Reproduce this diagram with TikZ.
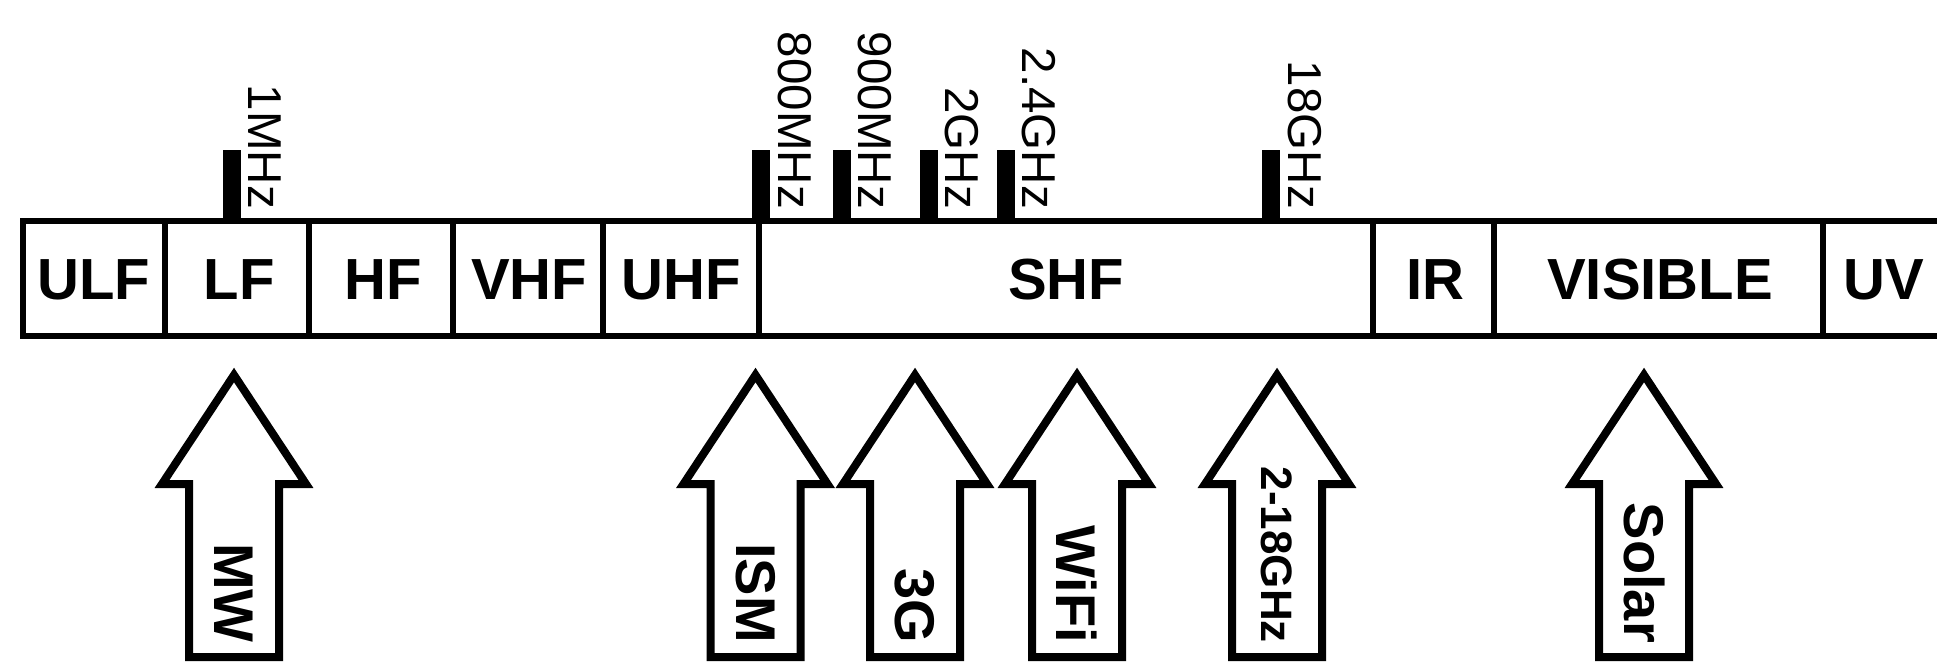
\documentclass[tikz,border=0pt]{standalone}
\usepackage{fontspec}
\setmainfont{Liberation Sans}
\begin{document}
\begin{tikzpicture}[x=1pt,y=1pt,
  bandline/.style={line width=5.5pt},
  divline/.style={line width=6.5pt},
  bandlabel/.style={font=\fontsize{58}{58}\selectfont\bfseries, inner sep=0pt},
  tickbar/.style={fill=black, inner sep=0pt, minimum width=18pt, minimum height=71pt, anchor=south},
  ticklabel/.style={font=\fontsize{47.5}{48}\selectfont, rotate=-90, anchor=base east, inner sep=0pt},
  bigarrow/.style={line width=8pt, miter limit=10, fill=white},
  arrowlabel/.style={font=\fontsize{56}{56}\selectfont\bfseries, rotate=-90, anchor=east, inner sep=0pt}
]
\useasboundingbox (0,0) rectangle (1937,-663);

% spectrum band
\draw[bandline] (1937,-221) -- (23,-221) -- (23,-336) -- (1937,-336);
\foreach \x in {165,309,453,603,759,1373,1494,1823}
  \draw[divline] (\x,-221) -- (\x,-336);

\node[bandlabel] (ulf) at (94,-280) {ULF};
\node[bandlabel] (lf) at (239,-280) {LF};
\node[bandlabel] (hf) at (383,-280) {HF};
\node[bandlabel] (vhf) at (529,-280) {VHF};
\node[bandlabel] (uhf) at (681,-280) {UHF};
\node[bandlabel] (shf) at (1066,-280) {SHF};
\node[bandlabel] (ir) at (1435,-280) {IR};
\node[bandlabel] (vis) at (1660,-280) {VISIBLE};
\node[bandlabel] (uv) at (1884,-280) {UV};

% frequency ticks
\foreach \x/\lab/\nm in {231.5/1MHz/a,761/800MHz/b,841.5/900MHz/c,928.5/2GHz/d,1005.5/2.4GHz/e,1271/18GHz/f}{
  \node[tickbar] (tick\nm) at (\x,-221) {};
  \node[ticklabel] (ticklab\nm) at (\x+17,-209) {\lab};
}

% application arrows
\foreach \cx/\lab/\nm in {234/MW/mw,755.5/ISM/ism,915/3G/tg,1077/WiFi/wifi,1277/{\fontsize{44}{44}\selectfont 2-18GHz}/ghz,1644/Solar/solar}{
  \draw[bigarrow] (\cx,-375) -- (\cx+72,-484) -- (\cx+45,-484) -- (\cx+45,-657)
     -- (\cx-45,-657) -- (\cx-45,-484) -- (\cx-72,-484) -- cycle;
  \node[arrowlabel] (arr\nm) at (\cx,-643) {\lab};
}
\end{tikzpicture}
\end{document}
